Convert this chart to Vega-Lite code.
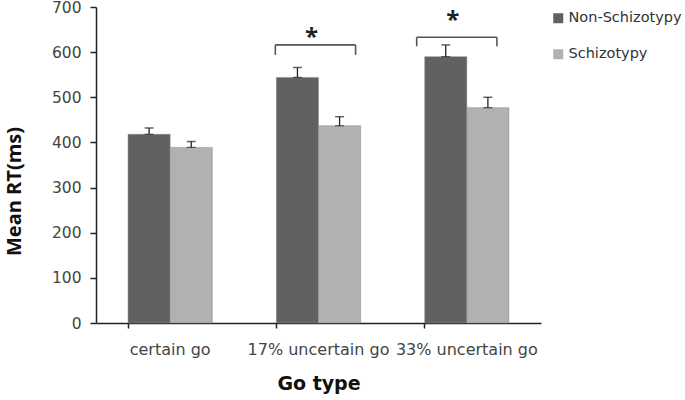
{
  "$schema": "https://vega.github.io/schema/vega-lite/v6.json",
  "autosize": "none",
  "width": 445,
  "height": 316,
  "padding": {"left": 96, "top": 7, "right": 144, "bottom": 77},
  "background": "white",
  "config": {
    "view": {"stroke": null},
    "font": "DejaVu Sans",
    "axis": {"domainColor": "#222", "tickColor": "#222", "domainWidth": 1.5, "tickWidth": 1.5, "grid": false, "labelColor": "#444", "titleColor": "#111", "labelFont": "DejaVu Sans"}
  },
  "datasets": {
    "rt": [
      {"type": "certain go", "group": "Non-Schizotypy", "rt": 418, "hi": 432},
      {"type": "certain go", "group": "Schizotypy", "rt": 389, "hi": 402},
      {"type": "17% uncertain go", "group": "Non-Schizotypy", "rt": 544, "hi": 566},
      {"type": "17% uncertain go", "group": "Schizotypy", "rt": 437, "hi": 457},
      {"type": "33% uncertain go", "group": "Non-Schizotypy", "rt": 590, "hi": 616},
      {"type": "33% uncertain go", "group": "Schizotypy", "rt": 477, "hi": 500}
    ],
    "brackets": [
      {"bx": 1.209, "bx2": 1.75, "by": 616, "by2": 616},
      {"bx": 1.209, "bx2": 1.209, "by": 594, "by2": 616},
      {"bx": 1.75, "bx2": 1.75, "by": 594, "by2": 616},
      {"bx": 2.162, "bx2": 2.703, "by": 633, "by2": 633},
      {"bx": 2.162, "bx2": 2.162, "by": 613, "by2": 633},
      {"bx": 2.703, "bx2": 2.703, "by": 613, "by2": 633}
    ],
    "stars": [
      {"sx": 1.453, "sy": 631, "label": "*"},
      {"sx": 2.405, "sy": 669, "label": "*"}
    ]
  },
  "layer": [
    {
      "data": {"name": "rt"},
      "layer": [
        {
          "mark": {"type": "bar", "stroke": "#888", "strokeWidth": 0.5},
          "encoding": {
            "x": {"field": "type", "type": "nominal", "sort": ["certain go", "17% uncertain go", "33% uncertain go"],
                  "scale": {"paddingInner": 0.432, "paddingOuter": 0.216},
                  "axis": {"title": "Go type", "labelAngle": 0, "labelFontSize": 16, "labelPadding": 13, "titleFontSize": 19, "titleFont": "DejaVu Sans", "titleFontWeight": "bold", "titlePadding": 17, "bandPosition": 0, "tickSize": 5}},
            "xOffset": {"field": "group", "type": "nominal", "sort": ["Non-Schizotypy", "Schizotypy"], "scale": {"paddingInner": 0, "paddingOuter": 0}},
            "y": {"field": "rt", "type": "quantitative", "scale": {"domain": [0, 700]},
                  "axis": {"title": "Mean RT(ms)", "values": [0, 100, 200, 300, 400, 500, 600, 700], "labelFontSize": 15.5, "labelPadding": 9, "tickSize": 6, "titleFont": "Open Sans", "titleFontSize": 20, "titleFontWeight": "bold", "titleX": -72, "titleY": 184}},
            "color": {"field": "group", "type": "nominal", "sort": ["Non-Schizotypy", "Schizotypy"],
                      "scale": {"range": ["#616161", "#b1b1b1"]},
                      "legend": {"title": null, "orient": "none", "legendX": 455, "legendY": 4, "symbolType": "square", "symbolSize": 100, "labelFont": "DejaVu Sans", "labelFontSize": 14.5, "labelColor": "#333", "labelOffset": 3, "rowPadding": 21, "symbolStrokeWidth": 0}}
          }
        },
        {
          "mark": {"type": "rule", "color": "#222", "strokeWidth": 1.3},
          "encoding": {
            "x": {"field": "type", "type": "nominal", "sort": ["certain go", "17% uncertain go", "33% uncertain go"]},
            "xOffset": {"field": "group", "type": "nominal", "sort": ["Non-Schizotypy", "Schizotypy"]},
            "y": {"field": "rt", "type": "quantitative"},
            "y2": {"field": "hi"}
          }
        },
        {
          "mark": {"type": "tick", "color": "#222", "thickness": 1.5, "size": 9},
          "encoding": {
            "x": {"field": "type", "type": "nominal", "sort": ["certain go", "17% uncertain go", "33% uncertain go"]},
            "xOffset": {"field": "group", "type": "nominal", "sort": ["Non-Schizotypy", "Schizotypy"]},
            "y": {"field": "hi", "type": "quantitative"}
          }
        },
        {
          "mark": {"type": "tick", "color": "#222", "thickness": 1.2, "size": 9},
          "encoding": {
            "x": {"field": "type", "type": "nominal", "sort": ["certain go", "17% uncertain go", "33% uncertain go"]},
            "xOffset": {"field": "group", "type": "nominal", "sort": ["Non-Schizotypy", "Schizotypy"]},
            "y": {"field": "rt", "type": "quantitative"}
          }
        }
      ]
    },
    {
      "data": {"name": "brackets"},
      "mark": {"type": "rule", "color": "#555", "strokeWidth": 1.6},
      "encoding": {
        "x": {"field": "bx", "type": "quantitative", "scale": {"domain": [0, 3]}, "axis": null},
        "x2": {"field": "bx2"},
        "y": {"field": "by", "type": "quantitative"},
        "y2": {"field": "by2"}
      }
    },
    {
      "data": {"name": "stars"},
      "mark": {"type": "text", "font": "Open Sans", "fontSize": 24, "fontWeight": "bold", "color": "#222", "baseline": "middle"},
      "encoding": {
        "x": {"field": "sx", "type": "quantitative", "scale": {"domain": [0, 3]}, "axis": null},
        "y": {"field": "sy", "type": "quantitative"},
        "text": {"field": "label"}
      }
    }
  ],
  "resolve": {"scale": {"x": "independent"}}
}
